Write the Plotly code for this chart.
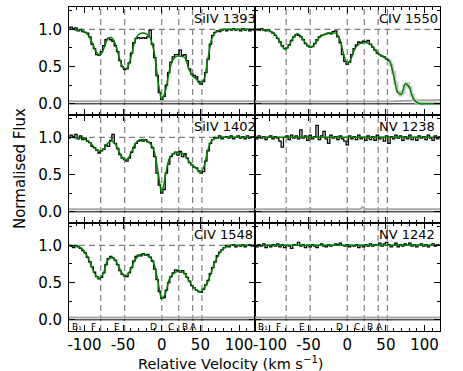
import numpy as np
import plotly.graph_objects as go
from plotly.subplots import make_subplots

# pixel grid of the spectra and the coarser grid of the fitted profiles
vel = np.arange(-120, 121, 3)
model_vel = np.arange(-120, 121, 5)
err_vel = [-120, -90, -60, -51, -48, -45, -30, 0, 17, 20, 23, 60, 90, 120]

comp_vel = [-79, -48, 0, 22, 40, 52]
comp_names = ['F', 'E', 'D', 'C', 'B', 'A']
extra_label = 'B₁'
extra_vel = -97

siiv1393_flux = [1.02, 1.03, 1.01, 1.02, 0.98, 1.00, 0.97, 0.96, 0.95, 0.90,
                 0.80, 0.74, 0.66, 0.65, 0.70, 0.78, 0.86, 0.88, 0.86, 0.84,
                 0.78, 0.70, 0.58, 0.50, 0.46, 0.47, 0.55, 0.68, 0.82, 0.88,
                 0.89, 0.88, 0.89, 0.88, 0.90, 0.99, 0.80, 0.62, 0.38, 0.15,
                 0.06, 0.10, 0.25, 0.42, 0.56, 0.63, 0.66, 0.66, 0.72, 0.65,
                 0.66, 0.58, 0.47, 0.40, 0.38, 0.36, 0.30, 0.26, 0.30, 0.42,
                 0.60, 0.80, 0.92, 0.96, 0.98, 0.97, 0.99, 1.00, 0.98, 1.00,
                 0.99, 1.01, 0.99, 1.00, 0.98, 1.01, 0.99, 1.00, 0.98, 1.00,
                 0.99]
siiv1402_flux = [0.99, 1.03, 1.01, 1.04, 0.98, 1.02, 0.97, 0.99, 0.95, 0.93,
                 0.88, 0.86, 0.83, 0.79, 0.82, 0.84, 0.90, 0.88, 0.96, 1.04,
                 0.92, 0.85, 0.77, 0.72, 0.70, 0.68, 0.72, 0.80, 0.86, 0.92,
                 0.95, 0.96, 0.95, 0.97, 0.94, 0.93, 0.86, 0.74, 0.52, 0.36,
                 0.25, 0.30, 0.52, 0.64, 0.74, 0.78, 0.80, 0.76, 0.81, 0.74,
                 0.78, 0.72, 0.66, 0.63, 0.60, 0.59, 0.55, 0.52, 0.54, 0.68,
                 0.82, 0.92, 0.97, 1.00, 0.99, 1.02, 0.98, 1.00, 1.01, 0.99,
                 1.02, 0.98, 1.00, 1.02, 0.99, 1.01, 0.98, 1.02, 0.99, 1.01,
                 1.00]
civ1548_flux = [1.00, 0.99, 0.97, 1.00, 0.98, 0.96, 0.93, 0.90, 0.84, 0.78,
                0.71, 0.64, 0.58, 0.55, 0.57, 0.63, 0.74, 0.82, 0.85, 0.83,
                0.80, 0.74, 0.66, 0.61, 0.59, 0.58, 0.63, 0.70, 0.79, 0.85,
                0.87, 0.86, 0.89, 0.87, 0.88, 0.84, 0.79, 0.68, 0.54, 0.38,
                0.29, 0.30, 0.40, 0.50, 0.58, 0.63, 0.67, 0.66, 0.64, 0.66,
                0.62, 0.57, 0.52, 0.46, 0.43, 0.40, 0.38, 0.37, 0.41, 0.47,
                0.53, 0.62, 0.70, 0.78, 0.86, 0.91, 0.94, 0.97, 1.00, 0.98,
                1.00, 1.01, 0.98, 1.00, 0.99, 1.01, 0.98, 1.00, 1.01, 0.99,
                1.00]
civ1550_flux = [0.98, 1.00, 0.99, 1.01, 0.99, 0.98, 0.99, 0.97, 0.95, 0.92,
                0.88, 0.83, 0.78, 0.74, 0.75, 0.79, 0.85, 0.90, 0.93, 0.92,
                0.90, 0.86, 0.81, 0.78, 0.76, 0.77, 0.81, 0.86, 0.90, 0.92,
                0.93, 0.94, 0.95, 0.94, 0.97, 0.98, 0.90, 0.82, 0.66, 0.57,
                0.53, 0.56, 0.66, 0.74, 0.79, 0.83, 0.82, 0.84, 0.83, 0.85,
                0.80, 0.76, 0.72, 0.68, 0.66, 0.64, 0.63, 0.60, 0.58, 0.52,
                0.42, 0.28, 0.16, 0.12, 0.15, 0.24, 0.27, 0.22, 0.12, 0.05,
                0.02, 0.01, 0.00, 0.01, 0.00, 0.01, 0.00, 0.02, 0.01, 0.00,
                0.01]
nv1238_flux = [1.01, 0.98, 1.02, 0.99, 1.01, 0.97, 1.00, 1.02, 0.98, 1.01,
               0.99, 0.95, 0.87, 1.00, 1.02, 0.97, 1.03, 0.99, 1.02, 0.98,
               1.10, 0.99, 1.02, 0.96, 1.03, 0.98, 1.01, 1.16, 0.97, 1.02,
               1.08, 0.98, 0.92, 1.03, 0.99, 1.01, 0.97, 1.02, 0.98, 0.95,
               0.90, 1.02, 0.98, 1.01, 0.97, 1.03, 0.98, 1.00, 0.96, 1.02,
               0.97, 1.01, 0.96, 1.03, 0.98, 1.00, 0.95, 1.02, 0.92, 1.01,
               0.98, 1.03, 0.99, 1.02, 0.96, 1.01, 0.98, 1.03, 0.97, 1.00,
               0.96, 1.02, 0.99, 1.01, 0.97, 1.03, 0.99, 0.96, 1.02, 0.98,
               1.01]
nv1242_flux = [1.00, 0.98, 1.01, 0.99, 1.02, 0.97, 1.00, 0.98, 1.01, 0.99,
               1.02, 0.98, 1.01, 0.97, 1.00, 0.99, 0.96, 1.01, 1.00, 1.04,
               0.99, 1.01, 0.97, 1.00, 0.98, 1.01, 0.99, 0.97, 1.00, 1.02,
               0.99, 0.98, 1.01, 0.99, 1.00, 1.02, 1.01, 1.03, 1.00, 0.99,
               1.01, 0.98, 1.00, 0.99, 1.01, 0.97, 1.00, 0.98, 1.01, 0.99,
               1.02, 0.99, 1.01, 1.00, 1.03, 0.99, 1.02, 1.04, 1.01, 0.98,
               1.00, 1.03, 0.98, 1.01, 0.99, 1.02, 1.00, 1.03, 0.99, 1.01,
               0.98, 1.00, 1.02, 0.99, 1.01, 0.98, 1.00, 1.02, 0.99, 1.01,
               1.00]

siiv1393_model = [1.00, 1.00, 0.99, 0.99, 0.97, 0.92, 0.82, 0.70, 0.65, 0.74,
                  0.87, 0.89, 0.80, 0.62, 0.49, 0.48, 0.62, 0.83, 0.93, 0.95,
                  0.94, 0.89, 0.70, 0.32, 0.06, 0.18, 0.45, 0.60, 0.64, 0.64,
                  0.62, 0.47, 0.37, 0.33, 0.26, 0.34, 0.62, 0.88, 0.96, 0.99,
                  1.00, 1.00, 1.00, 1.00, 1.00, 1.00, 1.00, 1.00, 1.00]
siiv1402_model = [1.00, 1.00, 0.99, 0.99, 0.98, 0.95, 0.90, 0.84, 0.81, 0.84,
                  0.92, 0.95, 0.91, 0.80, 0.72, 0.70, 0.78, 0.90, 0.96, 0.97,
                  0.96, 0.92, 0.82, 0.55, 0.25, 0.50, 0.72, 0.78, 0.80, 0.79,
                  0.76, 0.68, 0.62, 0.58, 0.52, 0.62, 0.84, 0.96, 0.99, 1.00,
                  1.00, 1.00, 1.00, 1.00, 1.00, 1.00, 1.00, 1.00, 1.00]
civ1548_model = [1.00, 0.99, 0.99, 0.97, 0.92, 0.82, 0.70, 0.59, 0.56, 0.64,
                 0.80, 0.84, 0.80, 0.70, 0.61, 0.60, 0.68, 0.80, 0.86, 0.88,
                 0.87, 0.84, 0.75, 0.52, 0.28, 0.36, 0.55, 0.62, 0.65, 0.65,
                 0.62, 0.53, 0.45, 0.40, 0.37, 0.43, 0.52, 0.67, 0.80, 0.90,
                 0.96, 0.99, 1.00, 1.00, 1.00, 1.00, 1.00, 1.00, 1.00]
civ1550_model = [0.99, 1.00, 1.00, 0.99, 0.98, 0.95, 0.88, 0.79, 0.73, 0.79,
                 0.89, 0.94, 0.91, 0.83, 0.77, 0.77, 0.83, 0.90, 0.93, 0.95,
                 0.95, 0.95, 0.88, 0.68, 0.53, 0.61, 0.74, 0.80, 0.82, 0.82,
                 0.80, 0.74, 0.68, 0.64, 0.61, 0.57, 0.38, 0.16, 0.13, 0.27,
                 0.23, 0.08, 0.02, 0.00, 0.00, 0.00, 0.00, 0.00, 0.00]
nv_model_vel = [-120, 120]
nv_model = [1.0, 1.0]

siiv_err = [0.035, 0.034, 0.035, 0.035, 0.035, 0.035, 0.034, 0.030, 0.034, 0.035, 0.035, 0.035, 0.034, 0.035]
civ1548_err = [0.030, 0.030, 0.031, 0.030, 0.030, 0.030, 0.031, 0.028, 0.030, 0.030, 0.030, 0.031, 0.030, 0.030]
civ1550_err = [0.030, 0.030, 0.030, 0.030, 0.030, 0.030, 0.030, 0.030, 0.030, 0.030, 0.030, 0.036, 0.046, 0.050]
nv1238_err = [0.035, 0.035, 0.035, 0.035, 0.048, 0.035, 0.035, 0.035, 0.035, 0.065, 0.035, 0.035, 0.035, 0.035]
nv1242_err = [0.032, 0.032, 0.032, 0.032, 0.034, 0.032, 0.032, 0.032, 0.032, 0.034, 0.032, 0.032, 0.032, 0.032]

panels = [
    (1, 1, 'SiIV 1393', siiv1393_flux, model_vel, siiv1393_model, siiv_err),
    (1, 2, 'CIV 1550', civ1550_flux, model_vel, civ1550_model, civ1550_err),
    (2, 1, 'SiIV 1402', siiv1402_flux, model_vel, siiv1402_model, siiv_err),
    (2, 2, 'NV 1238', nv1238_flux, nv_model_vel, nv_model, nv1238_err),
    (3, 1, 'CIV 1548', civ1548_flux, model_vel, civ1548_model, civ1548_err),
    (3, 2, 'NV 1242', nv1242_flux, nv_model_vel, nv_model, nv1242_err),
]

FONT = 'DejaVu Sans'
DASH = dict(color='#808080', width=1.2, dash='6px,4px')
fig = make_subplots(rows=3, cols=2, shared_xaxes=True, shared_yaxes=True,
                    horizontal_spacing=0, vertical_spacing=0)

for k, (r, c, name, flux, mv, mf, err) in enumerate(panels):
    axn = '' if k == 0 else str(k + 1)
    fig.add_trace(go.Scatter(x=err_vel, y=err, mode='lines',
                             line=dict(color='#a8a8a8', width=2)), row=r, col=c)
    flux = np.array(flux)
    if name == 'CIV 1550':
        cut = vel <= 54
        fig.add_trace(go.Scatter(x=vel[vel >= 51], y=flux[vel >= 51], mode='lines',
                                 line=dict(color='#c8c8c8', width=3, shape='hvh')),
                      row=r, col=c)
        fig.add_trace(go.Scatter(x=vel[cut], y=flux[cut], mode='lines',
                                 line=dict(color='black', width=1.3, shape='hvh')),
                      row=r, col=c)
    else:
        fig.add_trace(go.Scatter(x=vel, y=flux, mode='lines',
                                 line=dict(color='black', width=1.3, shape='hvh')),
                      row=r, col=c)
    fig.add_trace(go.Scatter(x=mv, y=mf, mode='lines',
                             line=dict(color='#008000', width=1.5, shape='spline', smoothing=0.8)),
                  row=r, col=c)
    # reference lines
    for v in comp_vel:
        fig.add_vline(x=v, row=r, col=c, layer='below', line=DASH,
                      exclude_empty_subplots=False)
    fig.add_hline(y=1.0, row=r, col=c, layer='below', line=DASH,
                  exclude_empty_subplots=False)
    fig.add_hline(y=0.0, row=r, col=c, layer='below', line=dict(color='black', width=1),
                  exclude_empty_subplots=False)
    fig.add_annotation(x=39, y=1.15, xref='x' + axn, yref='y' + axn, text=name,
                       showarrow=False, xanchor='left', yanchor='middle',
                       font=dict(family=FONT, size=13, color='black'))
    if r == 3:
        for v, lab in zip(comp_vel + [extra_vel], comp_names + [extra_label]):
            fig.add_annotation(x=v - 3.5, y=-0.10, xref='x' + axn, yref='y' + axn, text=lab,
                               showarrow=False, xanchor='right', yanchor='middle',
                               font=dict(family=FONT, size=9, color='black'))

fig.update_xaxes(range=[-120, 120], tickmode='array', tickvals=[-100, -50, 0, 50, 100],
                 ticktext=['-100', '-50', '0', '50', '100'],
                 ticks='inside', ticklen=6, tickwidth=1, tickcolor='black',
                 minor=dict(dtick=10, tick0=0, ticks='inside', ticklen=3, tickcolor='black'),
                 showline=True, linecolor='black', linewidth=1, mirror='allticks',
                 showgrid=False, zeroline=False,
                 tickfont=dict(family=FONT, size=15, color='black'))
fig.update_yaxes(range=[-0.15, 1.3], tickmode='array', tickvals=[0, 0.5, 1.0],
                 ticktext=['0.0', '0.5', '1.0'],
                 ticks='inside', ticklen=6, tickwidth=1, tickcolor='black',
                 minor=dict(dtick=0.25, tick0=0, ticks='inside', ticklen=3, tickcolor='black'),
                 showline=True, linecolor='black', linewidth=1, mirror='allticks',
                 showgrid=False, zeroline=False, ticklabelstandoff=3,
                 tickfont=dict(family=FONT, size=15, color='black'))

fig.add_annotation(x=-0.132, y=0.5, xref='paper', yref='paper', text='Normalised Flux',
                   textangle=-90, showarrow=False, xanchor='center', yanchor='middle',
                   font=dict(family=FONT, size=15, color='black'))
fig.add_annotation(x=0.437, y=-0.099, xref='paper', yref='paper',
                   text='Relative Velocity (km s<sup>−1</sup>)',
                   showarrow=False, xanchor='center', yanchor='middle',
                   font=dict(family=FONT, size=14.5, color='black'))

fig.update_layout(width=463, height=371, showlegend=False,
                  margin=dict(l=69, r=23, t=7, b=40),
                  paper_bgcolor='white', plot_bgcolor='white')
fig.write_html('out.html', config={'displayModeBar': False},
               post_script="document.body.style.margin='0';")
